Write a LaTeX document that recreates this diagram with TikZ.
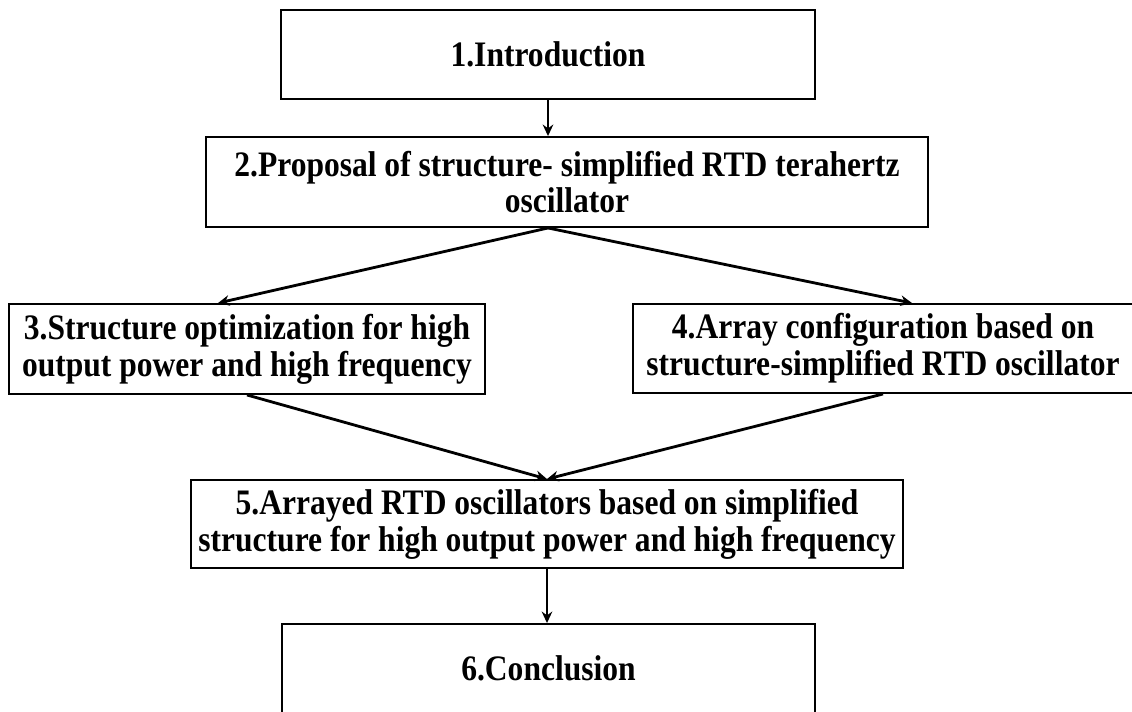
\documentclass[tikz,border=0pt]{standalone}
\usepackage{fontspec}
\setmainfont{Liberation Serif}[FakeStretch=0.88]
\usepackage{tikz}
\usetikzlibrary{positioning, arrows.meta, calc}

\begin{document}
\begin{tikzpicture}[
    x=0.02cm, y=-0.02cm,
    stage/.style={rectangle, draw, line width=1.1pt, inner sep=0pt, align=center,
        font=\fontsize{20.4}{21}\selectfont\bfseries},
    arr/.style={-{Stealth[length=6.5pt, width=6pt]}, line width=1.6pt}
]
    \useasboundingbox (0,0) rectangle (1132,711);

    \node[stage, minimum width=534*0.02cm, minimum height=89*0.02cm] (intro) at (548,54.5) {1.Introduction};
    \node[stage, minimum width=722*0.02cm, minimum height=90*0.02cm] (proposal) at (567,182) {2.Proposal of structure- simplified RTD terahertz\\oscillator};
    \node[stage, minimum width=476*0.02cm, minimum height=90*0.02cm] (optim) at (247,349) {3.Structure optimization for high\\output power and high frequency};
    \node[stage, minimum width=500*0.02cm, minimum height=89*0.02cm] (array) at (883,348.5) {4.Array configuration based on\\structure-simplified RTD oscillator};
    \node[stage, minimum width=712*0.02cm, minimum height=88*0.02cm] (arrayed) at (547,524) {5.Arrayed RTD oscillators based on simplified\\structure for high output power and high frequency};
    \node[stage, minimum width=533*0.02cm, minimum height=89*0.02cm] (concl) at (548.5,668.5) {6.Conclusion};

    \draw[arr] (intro.south) -- (intro.south |- proposal.north);
    \draw[arr] (intro.south |- proposal.south) -- ($(optim.north)+(-29,0)$);
    \draw[arr] (intro.south |- proposal.south) -- ($(array.north)+(29,0)$);
    \draw[arr] (optim.south) -- (arrayed.north);
    \draw[arr] (array.south) -- (arrayed.north);
    \draw[arr] (arrayed.south) -- (arrayed.south |- concl.north);
\end{tikzpicture}
\end{document}
